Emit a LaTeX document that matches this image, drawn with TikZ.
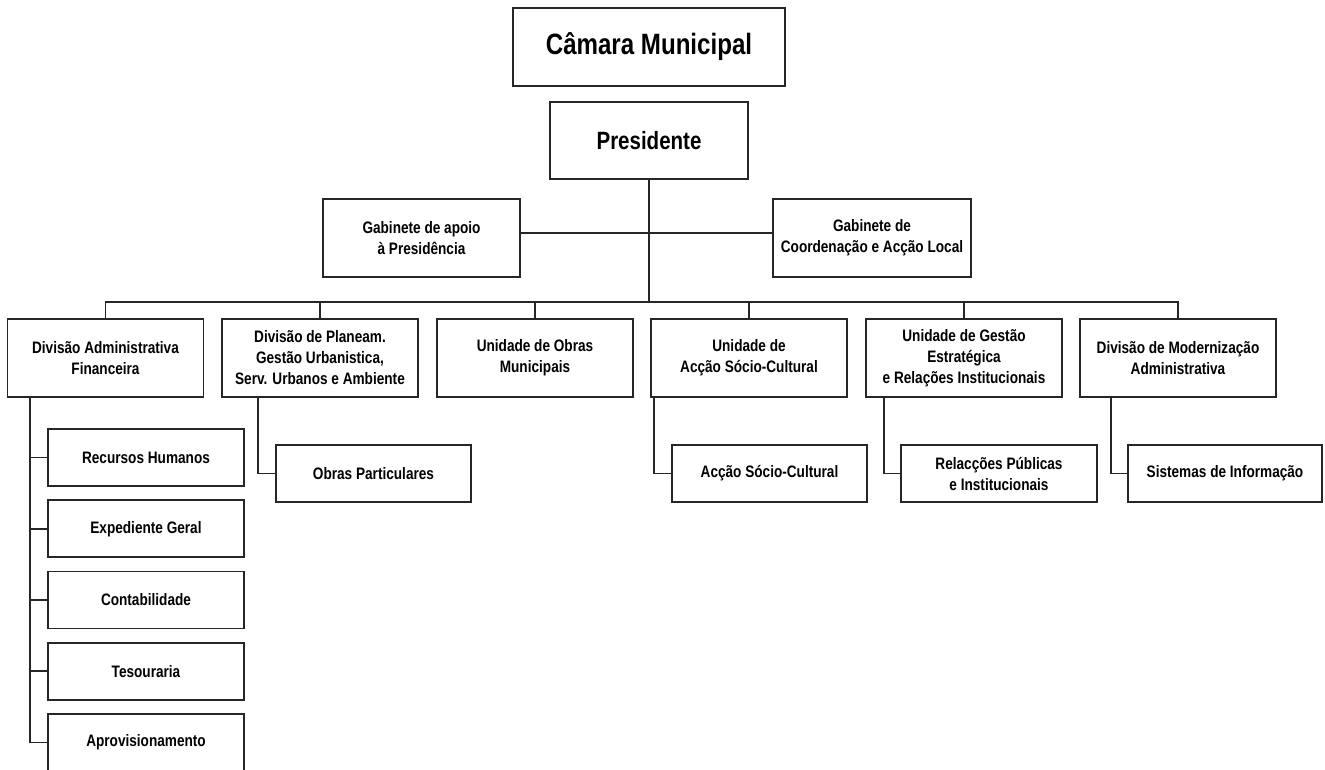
\documentclass[tikz,border=0pt]{standalone}
\usepackage{fontspec}
\setmainfont{Liberation Sans}[FakeStretch=0.82]
\begin{document}
\begin{tikzpicture}[x=1pt,y=-1pt,
  box/.style={draw=black!85,line width=1.6pt,fill=white,inner sep=0pt,align=center,
    font=\bfseries\fontsize{16.6}{21}\selectfont},
  unit/.style={box,minimum width=196pt,minimum height=78pt},
  sub/.style={box,minimum width=196pt,minimum height=57pt},
  link/.style={draw=black!85,line width=1.6pt}]
\useasboundingbox (0,0) rectangle (1325,769);
\fill[white] (0,0) rectangle (1325,769);
% top
\node[box,minimum width=272pt,minimum height=78pt,font=\bfseries\fontsize{29.4}{34}\selectfont] (cam) at (649,47) {Câmara Municipal};
\node[box,minimum width=198pt,minimum height=77pt,font=\bfseries\fontsize{25}{30}\selectfont] (pres) at (649,140.5) {Presidente};
\node[box,minimum width=197pt,minimum height=78pt] (gab1) at (421.5,238) {Gabinete de apoio\\à Presidência};
\node[box,minimum width=198pt,minimum height=78pt] (gab2) at (872,238) {Gabinete de\\Coordenação e Acção Local};
% units
\node[unit] (d1) at (105.5,358) {Divisão Administrativa\\Financeira};
\node[unit] (d2) at (320,358) {Divisão de Planeam.\\Gestão Urbanistica,\\Serv. Urbanos e Ambiente};
\node[unit] (d3) at (535,358) {Unidade de Obras\\Municipais};
\node[unit] (d4) at (749,358) {Unidade de\\Acção Sócio-Cultural};
\node[unit] (d5) at (964,358) {Unidade de Gestão\\Estratégica\\e Relações Institucionais};
\node[unit] (d6) at (1178,358) {Divisão de Modernização\\Administrativa};
% subs
\node[sub] (s1) at (146,457.5) {Recursos Humanos};
\node[sub] (s2) at (146,528.75) {Expediente Geral};
\node[sub] (s3) at (146,600) {Contabilidade};
\node[sub] (s4) at (146,671.25) {Tesouraria};
\node[sub] (s5) at (146,742.5) {Aprovisionamento};
\node[sub,minimum width=195pt] (op) at (373.5,473.5) {Obras Particulares};
\node[sub,minimum width=195pt] (asc) at (769.5,473.5) {Acção Sócio-Cultural};
\node[sub] (rp) at (999,473.5) {Relacções Públicas\\e Institucionais};
\node[sub,minimum width=194pt] (si) at (1225,473.5) {Sistemas de Informação};
% connectors
\coordinate (bus) at (0,302);
\path[link] (pres.south) -- (pres.south |- bus);
\path[link] ([yshift=5pt]gab1.east) -- ([yshift=5pt]gab2.west);
\path[link] (d1.north) -- (d1.north |- bus) -- (d6.north |- bus) -- (d6.north);
\foreach \n in {d2,d3,d4,d5} {\path[link] (\n.north) -- (\n.north |- bus);}
\path[link] ([xshift=23pt]d1.south west) |- (s5.west);
\foreach \n in {s1,s2,s3,s4} {\path[link] (\n.west) -- ++(-17,0);}
\path[link] ([xshift=37pt]d2.south west) |- (op.west);
\path[link] ([xshift=4pt]d4.south west) |- (asc.west);
\path[link] ([xshift=19pt]d5.south west) |- (rp.west);
\path[link] ([xshift=32pt]d6.south west) |- (si.west);
\end{tikzpicture}
\end{document}
